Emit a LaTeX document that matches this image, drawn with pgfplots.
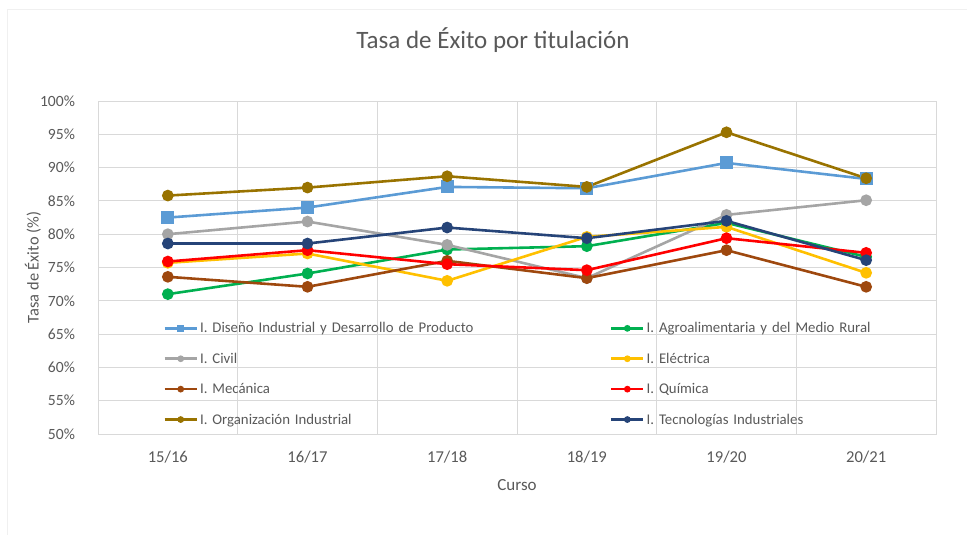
\documentclass[border=0pt]{standalone}
\usepackage{fontspec}
\setmainfont{Carlito}
\usepackage{pgfplots}
\pgfplotsset{compat=1.18}
\definecolor{cDis}{HTML}{5B9BD5}
\definecolor{cAgr}{HTML}{00B050}
\definecolor{cCiv}{HTML}{A5A5A5}
\definecolor{cEle}{HTML}{FFC000}
\definecolor{cMec}{HTML}{9E480E}
\definecolor{cQui}{HTML}{FF0000}
\definecolor{cOrg}{HTML}{997300}
\definecolor{cTec}{HTML}{264478}
\definecolor{grd}{HTML}{D9D9D9}
\definecolor{txt}{HTML}{595959}
\begin{document}
\begin{tikzpicture}[x=0.5pt,y=0.5pt]
\path[use as bounding box] (0,0) rectangle (967,535);
\draw[gray!12, line width=0.5pt] (7,0) -- (7,525) -- (967,525);
\node[text=txt, font=\fontsize{12.5}{15}\selectfont] at (493,495) {Tasa de Éxito por titulación};
\begin{axis}[
  at={(49pt,50.5pt)}, anchor=south west,
  scale only axis, width=419pt, height=166.5pt,
  xmin=-0.5, xmax=5.5, ymin=50, ymax=100,
  xtick={0,...,5}, xticklabels={15/16,16/17,17/18,18/19,19/20,20/21},
  minor xtick={0.5,1.5,2.5,3.5,4.5},
  ytick={50,55,...,100},
  yticklabels={50\%,55\%,60\%,65\%,70\%,75\%,80\%,85\%,90\%,95\%,100\%},
  xminorgrids, ymajorgrids,
  grid style={grd, line width=0.5pt},
  minor grid style={grd, line width=0.5pt},
  axis line style={grd, line width=0.5pt},
  tick style={draw=none},
  major tick length=0pt, minor tick length=0pt,
  xticklabel style={anchor=center, yshift=-11.5pt, text=txt, font=\fontsize{8.3}{10}\selectfont},
  yticklabel style={anchor=east, xshift=-8pt, text=txt, font=\fontsize{7.8}{9}\selectfont},
  xlabel={Curso}, ylabel={Tasa de Éxito (\%)},
  xlabel style={at={(axis description cs:0.5,-0.153)}, anchor=center, text=txt, font=\fontsize{8.5}{10}\selectfont},
  ylabel style={at={(axis description cs:-0.0776,0.5)}, anchor=center, rotate=0, text=txt, font=\fontsize{8.2}{10}\selectfont},
  legend columns=2,
  legend style={at={(0.0776,0.347)}, anchor=north west, draw=none, fill=none, inner sep=0pt,
    row sep=5.7pt, column sep=0pt,
    nodes={inner sep=1pt, text height=6pt, text depth=1.5pt, text width=204pt, align=left,
      font=\fontsize{7.4}{9}\selectfont, text=txt}},
  legend image code/.code={\draw[#1, mark repeat=2, mark phase=2, mark size=1pt] plot coordinates {(0pt,0pt) (8pt,0pt) (16pt,0pt)};},
  every axis plot/.append style={line width=1.3pt, mark size=2.25pt},
]
\addplot[cDis, mark=square*, mark size=2.6pt, mark options={solid, fill=cDis}] coordinates {(0,82.5) (1,84.0) (2,87.1) (3,86.9) (4,90.7) (5,88.3)};
\addlegendentry{I. Diseño Industrial y Desarrollo de Producto}
\addplot[cAgr, mark=*, mark options={solid, fill=cAgr}] coordinates {(0,71.0) (1,74.1) (2,77.7) (3,78.2) (4,81.7) (5,76.6)};
\addlegendentry{I. Agroalimentaria y del Medio Rural}
\addplot[cCiv, mark=*, mark options={solid, fill=cCiv}] coordinates {(0,80.0) (1,81.9) (2,78.4) (3,73.4) (4,82.9) (5,85.1)};
\addlegendentry{I. Civil}
\addplot[cEle, mark=*, mark options={solid, fill=cEle}] coordinates {(0,75.7) (1,77.1) (2,73.0) (3,79.6) (4,81.1) (5,74.2)};
\addlegendentry{I. Eléctrica}
\addplot[cMec, mark=*, mark options={solid, fill=cMec}] coordinates {(0,73.6) (1,72.1) (2,76.0) (3,73.4) (4,77.6) (5,72.1)};
\addlegendentry{I. Mecánica}
\addplot[cQui, mark=*, mark options={solid, fill=cQui}] coordinates {(0,75.9) (1,77.6) (2,75.5) (3,74.6) (4,79.4) (5,77.2)};
\addlegendentry{I. Química}
\addplot[cOrg, mark=*, mark options={solid, fill=cOrg}] coordinates {(0,85.8) (1,87.0) (2,88.7) (3,87.1) (4,95.3) (5,88.4)};
\addlegendentry{I. Organización Industrial}
\addplot[cTec, mark=*, mark options={solid, fill=cTec}] coordinates {(0,78.6) (1,78.6) (2,81.0) (3,79.4) (4,82.0) (5,76.1)};
\addlegendentry{I. Tecnologías Industriales}
\end{axis}
\end{tikzpicture}
\end{document}
